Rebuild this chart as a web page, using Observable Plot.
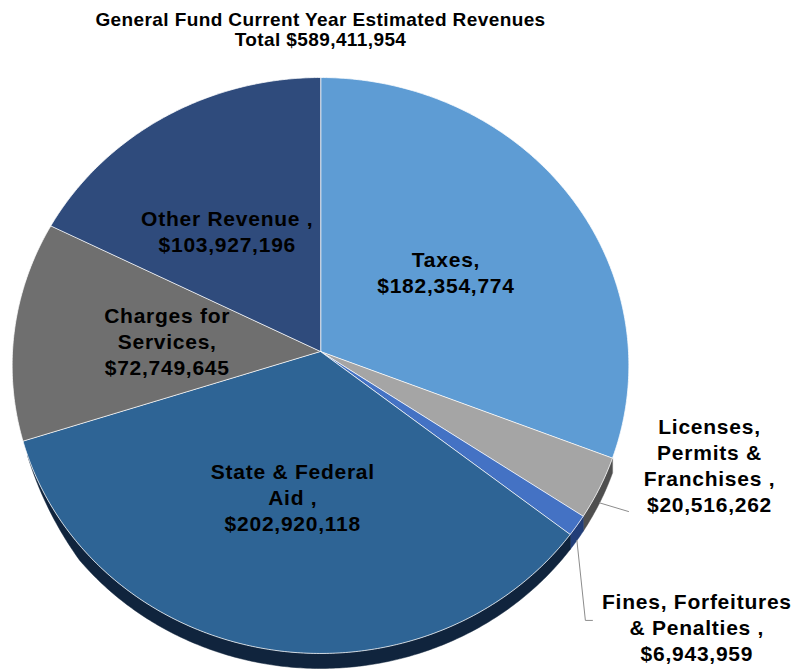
<!DOCTYPE html>
<html>
<head>
<meta charset="utf-8">
<script src="https://cdn.jsdelivr.net/npm/d3@7"></script>
<script src="https://cdn.jsdelivr.net/npm/@observablehq/plot@0.6"></script>
<style>
  html, body { margin: 0; padding: 0; background: #fff; }
  #chart svg { display: block; }
  #chart g[aria-label="text"] text { letter-spacing: 0.75px; }
  #chart g[aria-label="text"]:last-of-type text { letter-spacing: 0.4px; }
</style>
</head>
<body>
<div id="chart"></div>
<script>
// ---- data ----
const categories = ["Taxes", "Licenses, Permits & Franchises", "Fines, Forfeitures & Penalties", "State & Federal Aid", "Charges for Services", "Other Revenue"];
const values = [182354774, 20516262, 6943959, 202920118, 72749645, 103927196];
const labelNames = ["Taxes,", "Licenses,\nPermits &\nFranchises ,", "Fines, Forfeitures\n& Penalties ,", "State & Federal\nAid ,", "Charges for\nServices,", "Other Revenue ,"];
const titleText = "General Fund Current Year Estimated Revenues";

// ---- styles ----
const colors = ["#5e9cd4", "#a5a5a5", "#4472c4", "#2e6495", "#6f6f6f", "#2f4b7c"];
const sideColors = [null, "#4f4f4f", "#223e78", "#10243d", null, null];

// ---- geometry helpers (tilted pie with slight perspective) ----
const persp = 0.0486;
const depth = 15 / 287.3;
function proj(t, r = 1) {
  const c = Math.cos(t), s = Math.sin(t), k = 1 + persp * r * c;
  return [r * s / k, r * c / k];
}
const fmt = d3.format("$,");
const arcs = d3.pie().sort(null).value(d => d)(values);

const tops = [];
arcs.forEach((a, i) => {
  const name = categories[i];
  tops.push({name, u: 0, v: 0});
  const n = Math.max(2, Math.ceil((a.endAngle - a.startAngle) / 0.01));
  for (let j = 0; j <= n; j++) {
    const t = a.startAngle + (a.endAngle - a.startAngle) * j / n;
    const [u, v] = proj(t);
    tops.push({name, u, v});
  }
});

const tMin = Math.acos(-persp), tMax = 4.35;
const sideMarks = [];
arcs.forEach((a, i) => {
  if (!sideColors[i]) return;
  const t0 = Math.max(a.startAngle, tMin), t1 = Math.min(a.endAngle, tMax);
  if (t0 >= t1) return;
  const n = Math.max(2, Math.ceil((t1 - t0) / 0.01));
  const up = [], lo = [];
  for (let j = 0; j <= n; j++) {
    const t = t0 + (t1 - t0) * j / n;
    const [u, v] = proj(t);
    const taper = Math.min(1, (tMax - t) / 0.35);
    up.push({u, v});
    lo.push({u, v: v - depth * taper});
  }
  const poly = up.concat(lo.reverse());
  sideMarks.push(Plot.line(poly, {x: "u", y: "v", fill: sideColors[i], stroke: sideColors[i], strokeWidth: 0.5, curve: "linear-closed"}));
});

// inside labels along mid-angle (small nudge for Other Revenue)
const nudge = {5: [-0.045, 0.005]};
const inside = [0, 3, 4, 5].map(i => {
  const a = arcs[i], mid = (a.startAngle + a.endAngle) / 2;
  const [u, v] = proj(mid, 0.5);
  const [du, dv] = nudge[i] || [0, 0];
  return {u: u + du, v: v + dv, text: labelNames[i] + "\n" + fmt(values[i])};
});

// outside (callout) labels
const calloutAt = {1: [1.263, -0.393], 2: [1.222, -0.958]};
const outside = [1, 2].map(i => ({u: calloutAt[i][0], v: calloutAt[i][1], text: labelNames[i] + "\n" + fmt(values[i])}));

// leader lines
function midRim(i) {
  const a = arcs[i], mid = (a.startAngle + a.endAngle) / 2;
  const [u, v] = proj(mid);
  return {u, v: v - depth};
}
const leader1 = [midRim(1), {u: 1.0, v: -0.557}];
const leader2 = [midRim(2), {u: 0.860, v: -0.936}, {u: 0.883, v: -0.936}];

const chart = Plot.plot({
  width: 793,
  height: 671,
  margin: 0,
  x: {domain: [-1, 1], range: [12, 628], axis: null},
  y: {domain: [-1, 1], range: [638.3, 63.7], axis: null},
  color: {domain: categories, range: colors},
  style: {fontFamily: "'Liberation Sans', Arial, sans-serif", background: "#fff", color: "#000"},
  marks: [
    ...sideMarks,
    Plot.line(tops, {x: "u", y: "v", z: "name", fill: "name", stroke: "#ffffff", strokeOpacity: 0.75, strokeWidth: 1, curve: "linear-closed"}),
    Plot.line(leader1, {x: "u", y: "v", stroke: "#8c8c8c", strokeWidth: 1}),
    Plot.line(leader2, {x: "u", y: "v", stroke: "#8c8c8c", strokeWidth: 1}),
    Plot.text(inside, {x: "u", y: "v", text: "text", fontSize: 21, fontWeight: "bold", lineHeight: 1.24, lineAnchor: "middle", fill: "#000"}),
    Plot.text(outside, {x: "u", y: "v", text: "text", fontSize: 21, fontWeight: "bold", lineHeight: 1.24, lineAnchor: "middle", fill: "#000"}),
    Plot.text([titleText + "\nTotal " + fmt(d3.sum(values))], {x: 0, frameAnchor: "top", dy: 11, text: d => d, fontSize: 19, fontWeight: "bold", lineHeight: 1.05, lineAnchor: "top", fill: "#000"})
  ]
});
document.getElementById("chart").appendChild(chart);
</script>
</body>
</html>
